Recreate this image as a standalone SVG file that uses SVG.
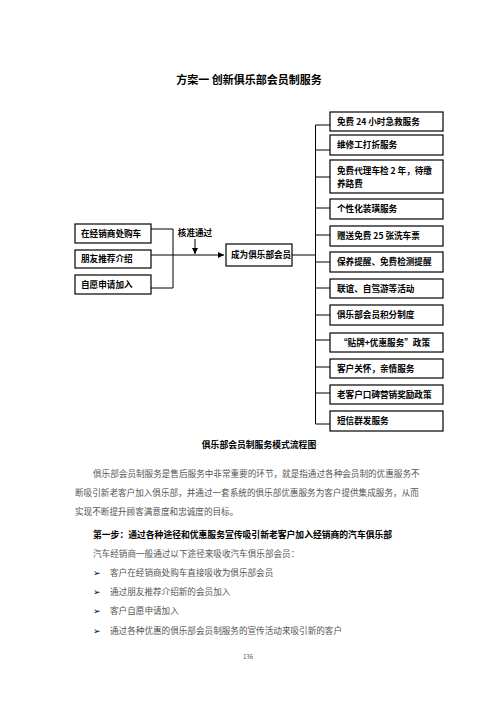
<svg xmlns="http://www.w3.org/2000/svg" width="496" height="702" viewBox="0 0 496 702">
<defs>
<marker id="ah" markerWidth="6" markerHeight="6" refX="6" refY="3" orient="auto" markerUnits="userSpaceOnUse">
<path d="M0,0 L6,3 L0,6 Z" fill="#000"/>
</marker>
<style>
.box{fill:#fff;stroke:#000;stroke-width:1.2}
.bt{font-family:"Noto Sans CJK SC","Liberation Sans",sans-serif;font-size:8.6px;font-weight:bold;fill:#000}
.ln{stroke:#000;stroke-width:1;fill:none}
.title{font-family:"Noto Sans CJK SC",sans-serif;font-size:11px;font-weight:bold;fill:#000}
.cap{font-family:"Noto Sans CJK SC",sans-serif;font-size:8.8px;font-weight:bold;fill:#000}
.body{font-family:"Noto Sans CJK SC",sans-serif;font-size:8.6px;fill:#555}
.bold{font-family:"Noto Sans CJK SC",sans-serif;font-size:8.8px;font-weight:bold;fill:#000}
</style>
</defs>
<rect width="496" height="702" fill="#fff"/>
<text class="title" x="249" y="84" text-anchor="middle">方案一  创新俱乐部会员制服务</text>

<g id="connectors">
<path class="ln" d="M151,229 H173 V288 H151"/>
<path class="ln" d="M151,255 H224" marker-end="url(#ah)"/>
<path class="ln" d="M195,239 V254" marker-end="url(#ah)"/>
<path class="ln" d="M292,255 H315.5"/>
<path class="ln" d="M315.5,125 V424"/>
<path class="ln" d="M315.5,125 H330 M315.5,150 H330 M315.5,177 H330 M315.5,208 H330 M315.5,235 H330 M315.5,262 H330 M315.5,288 H330 M315.5,315 H330 M315.5,340 H330 M315.5,367 H330 M315.5,393 H330 M315.5,424 H330"/>
</g>
<text class="bt" x="195" y="236" text-anchor="middle">核准通过</text>

<g id="n_buy"><rect class="box" x="75" y="224" width="76" height="19"/><text class="bt" x="81" y="236.5">在经销商处购车</text></g>
<g id="n_friend"><rect class="box" x="75" y="250" width="76" height="18"/><text class="bt" x="81" y="262">朋友推荐介绍</text></g>
<g id="n_apply"><rect class="box" x="75" y="275" width="76" height="19"/><text class="bt" x="81" y="287.5">自愿申请加入</text></g>
<g id="n_member"><rect class="box" x="226" y="244" width="66" height="22"/><text class="bt" x="231" y="258">成为俱乐部会员</text></g>

<g id="r1"><rect class="box" x="330" y="112" width="113" height="19"/><text class="bt" x="337" y="124.5">免费 24 小时急救服务</text></g>
<g id="r2"><rect class="box" x="330" y="135" width="113" height="20"/><text class="bt" x="337" y="148">维修工打折服务</text></g>
<g id="r3"><rect class="box" x="330" y="160" width="113" height="33"/><text class="bt" x="337" y="173.5">免费代理车检  2  年，待缴</text><text class="bt" x="337" y="187">养路费</text></g>
<g id="r4"><rect class="box" x="330" y="199" width="113" height="20"/><text class="bt" x="337" y="212">个性化装璜服务</text></g>
<g id="r5"><rect class="box" x="330" y="226" width="113" height="20"/><text class="bt" x="337" y="239">赠送免费 25 张洗车票</text></g>
<g id="r6"><rect class="box" x="330" y="252" width="113" height="20"/><text class="bt" x="337" y="265">保养提醒、免费检测提醒</text></g>
<g id="r7"><rect class="box" x="330" y="279" width="113" height="19"/><text class="bt" x="337" y="291.5">联谊、自驾游等活动</text></g>
<g id="r8"><rect class="box" x="330" y="305" width="113" height="20"/><text class="bt" x="337" y="318">俱乐部会员积分制度</text></g>
<g id="r9"><rect class="box" x="330" y="333" width="113" height="19"/><text class="bt" x="339" y="345.5">“贴牌+优惠服务”政策</text></g>
<g id="r10"><rect class="box" x="330" y="359" width="113" height="19"/><text class="bt" x="337" y="371.5">客户关怀，亲情服务</text></g>
<g id="r11"><rect class="box" x="330" y="385" width="113" height="19"/><text class="bt" x="337" y="397.5">老客户口碑营销奖励政策</text></g>
<g id="r12"><rect class="box" x="330" y="411" width="113" height="20"/><text class="bt" x="337" y="424">短信群发服务</text></g>

<text class="cap" x="259" y="448" text-anchor="middle">俱乐部会员制服务模式流程图</text>

<text class="body" x="93" y="476.5">俱乐部会员制服务是售后服务中非常重要的环节，就是指通过各种会员制的优惠服务不</text>
<text class="body" x="75" y="495.5">断吸引新老客户加入俱乐部，并通过一套系统的俱乐部优惠服务为客户提供集成服务，从而</text>
<text class="body" x="75" y="514.5">实现不断提升顾客满意度和忠诚度的目标。</text>
<text class="bold" x="93" y="537.5">第一步：通过各种途径和优惠服务宣传吸引新老客户加入经销商的汽车俱乐部</text>
<text class="body" x="93" y="556.5">汽车经销商一般通过以下途径来吸收汽车俱乐部会员：</text>
<g class="body">
<text class="body" x="93" y="575.5" style="fill:#000">➢</text><text class="body" x="110" y="575.5">客户在经销商处购车直接吸收为俱乐部会员</text>
<text class="body" x="93" y="595" style="fill:#000">➢</text><text class="body" x="110" y="595">通过朋友推荐介绍新的会员加入</text>
<text class="body" x="93" y="614" style="fill:#000">➢</text><text class="body" x="110" y="614">客户自愿申请加入</text>
<text class="body" x="93" y="633.5" style="fill:#000">➢</text><text class="body" x="110" y="633.5">通过各种优惠的俱乐部会员制服务的宣传活动来吸引新的客户</text>
</g>
<text class="body" x="248" y="659" text-anchor="middle" style="font-size:6px">136</text>
</svg>
